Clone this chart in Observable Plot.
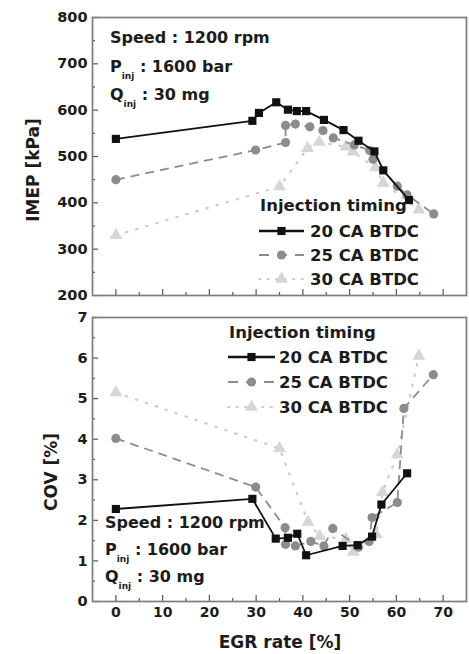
<!DOCTYPE html>
<html><head><meta charset="utf-8">
<script src="https://cdn.jsdelivr.net/npm/d3@7"></script>
<script src="https://cdn.jsdelivr.net/npm/@observablehq/plot@0.6"></script>
<style>
body{margin:0;background:#fff;}
#wrap{position:relative;width:469px;height:654px;overflow:hidden;background:#fff;}
#wrap > svg{position:absolute;left:0;}
</style></head><body><div id="wrap"></div>
<script>
// ---- data ----
const seriesNames = ["20 CA BTDC", "25 CA BTDC", "30 CA BTDC"];
const egrTicks = [0, 10, 20, 30, 40, 50, 60, 70];
const egrMinor = [5, 15, 25, 35, 45, 55, 65];
const imepTicks = [200, 300, 400, 500, 600, 700, 800];
const imepMinor = [250, 350, 450, 550, 650, 750];
const covTicks = [0, 1, 2, 3, 4, 5, 6, 7];
const covMinor = [0.5, 1.5, 2.5, 3.5, 4.5, 5.5, 6.5];

const imep20Egr = [0, 29.2, 30.6, 34.3, 36.8, 38.7, 40.7, 44.5, 48.7, 51.9, 55.3, 57.2, 62.7];
const imep20Val = [538, 577, 594, 617, 601, 598, 598, 579, 557, 534, 511, 470, 406];
const imep25Egr = [0, 29.9, 36.3, 36.3, 38.4, 41.5, 44.3, 46.5, 51.0, 54.3, 55.0, 60.2, 62.3, 68.0];
const imep25Val = [450, 514, 530, 567, 570, 564, 556, 540, 525, 513, 494, 436, 417, 376];
const imep30Egr = [0, 35.0, 41.0, 43.5, 49.2, 50.7, 55.5, 57.2, 64.8];
const imep30Val = [330, 435, 518, 531, 521, 510, 476, 443, 385];

const cov20Egr = [0, 29.2, 34.2, 36.8, 38.8, 40.7, 48.5, 51.7, 54.8, 56.8, 62.3];
const cov20Val = [2.28, 2.53, 1.55, 1.57, 1.67, 1.14, 1.37, 1.39, 1.6, 2.39, 3.16];
const cov25Egr = [0, 29.9, 36.2, 36.3, 38.4, 41.7, 44.5, 46.4, 51.9, 54.2, 54.8, 60.2, 61.6, 67.9];
const cov25Val = [4.02, 2.82, 1.82, 1.41, 1.37, 1.48, 1.37, 1.80, 1.34, 1.48, 2.07, 2.44, 4.76, 5.59];
const cov30Egr = [0, 35.0, 41.1, 43.6, 49.2, 50.8, 55.7, 57.0, 60.2, 64.8];
const cov30Val = [5.15, 3.77, 1.96, 1.61, 1.54, 1.22, 1.65, 2.69, 3.62, 6.05];

// ---- styles ----
const FONT = "DejaVu Sans";
const TXT = "#1c1c1c";
const sty = [
  {stroke: "#111", dash: null, w: 1.8, fill: "#111", symbol: "square", r: 4.6, cap: "butt"},
  {stroke: "#8c8c8c", dash: "9,6", w: 1.8, fill: "#8c8c8c", symbol: "circle", r: 4.6, cap: "butt"},
  {stroke: "#cdcdcd", dash: "1.5,9", w: 2.2, fill: "#d6d6d6", symbol: "triangle", r: 4.8, cap: "round"}
];

const rows = (xs, ys) => xs.map((x, i) => ({egr: x, v: ys[i]}));
const imepData = [rows(imep20Egr, imep20Val), rows(imep25Egr, imep25Val), rows(imep30Egr, imep30Val)];
const covData = [rows(cov20Egr, cov20Val), rows(cov25Egr, cov25Val), rows(cov30Egr, cov30Val)];

function seriesMarks(data) {
  const m = [];
  for (let k = 2; k >= 0; k--) {
    const s = sty[k];
    m.push(Plot.line(data[k], {x: "egr", y: "v", stroke: s.stroke, strokeWidth: s.w, strokeDasharray: s.dash, strokeLinecap: s.cap}));
    m.push(Plot.dot(data[k], {x: "egr", y: "v", symbol: s.symbol, r: s.r, fill: s.fill, stroke: "none"}));
  }
  return m;
}

function axes(yT, yMinor, showXLabels) {
  const m = [
    Plot.axisX({ticks: egrTicks, tickSize: -6, tickFormat: () => "", stroke: "#555", strokeWidth: 1.2}),
    Plot.axisX({ticks: egrMinor, tickSize: -3, tickFormat: () => "", stroke: "#555", strokeWidth: 1.2}),
    Plot.axisY({ticks: yT, tickSize: -6, tickFormat: () => "", stroke: "#555", strokeWidth: 1.2}),
    Plot.axisY({ticks: yMinor, tickSize: -3, tickFormat: () => "", stroke: "#555", strokeWidth: 1.2}),
    Plot.axisY({ticks: yT, tickSize: 0, tickPadding: 5, tickFormat: d => String(d), fill: TXT, fontSize: 14.5, fontWeight: "bold"})
  ];
  if (showXLabels) m.push(Plot.axisX({ticks: egrTicks, tickSize: 0, tickPadding: 6, tickFormat: d => String(d), fill: TXT, fontSize: 14, fontWeight: "bold"}));
  return m;
}

const wrap = document.getElementById("wrap");

const topPlot = Plot.plot({
  width: 469, height: 302,
  marginLeft: 92, marginRight: 3, marginTop: 17, marginBottom: 7,
  x: {domain: [-5, 75], label: null},
  y: {domain: [200, 800], label: null},
  style: {fontFamily: FONT, background: "transparent", overflow: "hidden"},
  marks: [
    ...seriesMarks(imepData),
    ...axes(imepTicks, imepMinor, false),
    Plot.frame({stroke: "#7d7d7d", strokeWidth: 1.7})
  ]
});
topPlot.style.top = "0px";
wrap.appendChild(topPlot);

const botPlot = Plot.plot({
  width: 469, height: 352,
  marginLeft: 92, marginRight: 3, marginTop: 15, marginBottom: 53,
  x: {domain: [-5, 75], label: null},
  y: {domain: [0, 7], label: null},
  style: {fontFamily: FONT, background: "#fff", overflow: "visible"},
  marks: [
    ...seriesMarks(covData),
    ...axes(covTicks, covMinor, true),
    Plot.frame({stroke: "#7d7d7d", strokeWidth: 1.7})
  ]
});
botPlot.style.top = "302px";
wrap.appendChild(botPlot);

// ---- overlay: annotations, legends, axis titles ----
const ov = d3.select(wrap).append("svg")
  .attr("width", 469).attr("height", 654)
  .style("top", "0px").style("pointer-events", "none")
  .attr("font-family", FONT).attr("font-weight", "bold").attr("fill", TXT);

function note(x, y0, gap) {
  ov.append("text").attr("x", x).attr("y", y0).attr("font-size", 16).text("Speed : 1200 rpm");
  const t2 = ov.append("text").attr("x", x).attr("y", y0 + gap).attr("font-size", 16);
  t2.append("tspan").text("P");
  t2.append("tspan").attr("font-size", 9).attr("dy", 7).text("inj");
  t2.append("tspan").attr("dy", -7).text(" : 1600 bar");
  const t3 = ov.append("text").attr("x", x).attr("y", y0 + 2 * gap).attr("font-size", 16);
  t3.append("tspan").text("Q");
  t3.append("tspan").attr("font-size", 9).attr("dy", 7).text("inj");
  t3.append("tspan").attr("dy", -7).text(" : 30 mg");
}
note(110, 43, 28.5);
note(105, 528, 27);

function legend(x0, x1, tx, yTitle, ys) {
  ov.append("text").attr("x", x0 + 1).attr("y", yTitle).attr("font-size", 16.5).text("Injection timing");
  ys.forEach((y, k) => {
    const s = sty[k];
    const cy = y - 6;
    const g = ov.append("g");
    g.append("line").attr("x1", x0).attr("x2", x1).attr("y1", cy).attr("y2", cy)
      .attr("stroke", s.stroke).attr("stroke-width", k === 0 ? 2.4 : 2)
      .attr("stroke-dasharray", k === 0 ? null : (k === 1 ? "10,8" : "1.5,7"))
      .attr("stroke-linecap", s.cap);
    const sym = s.symbol === "square" ? d3.symbolSquare : s.symbol === "circle" ? d3.symbolCircle : d3.symbolTriangle;
    g.append("path").attr("d", d3.symbol(sym, Math.PI * s.r * s.r)())
      .attr("transform", `translate(${(x0 + x1) / 2},${cy})`).attr("fill", s.fill);
    ov.append("text").attr("x", tx).attr("y", y).attr("font-size", 16.5).text(seriesNames[k]);
  });
}
legend(259, 304, 310, 211, [237, 261, 285]);
legend(228, 275, 279, 338, [363, 388, 413]);

ov.append("text").attr("transform", "translate(39,170) rotate(-90)")
  .attr("text-anchor", "middle").attr("font-size", 17).text("IMEP [kPa]");
ov.append("text").attr("transform", "translate(57,472) rotate(-90)")
  .attr("text-anchor", "middle").attr("font-size", 17).text("COV [%]");
ov.append("text").attr("x", 280).attr("y", 648)
  .attr("text-anchor", "middle").attr("font-size", 17).text("EGR rate [%]");
</script>
</body></html>
